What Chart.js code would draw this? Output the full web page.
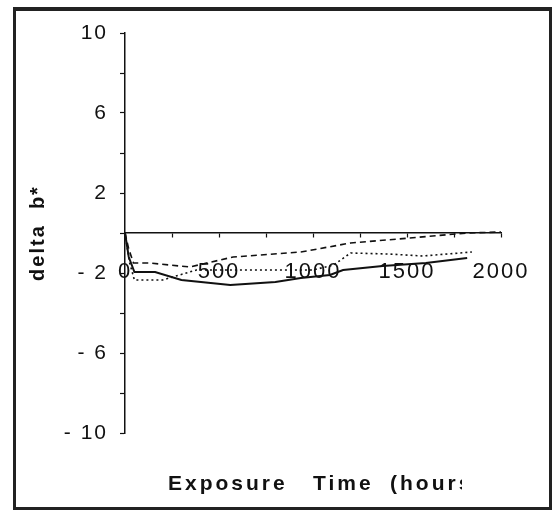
<!DOCTYPE html>
<html>
<head>
<meta charset="utf-8">
<script src="https://cdn.jsdelivr.net/npm/chart.js@4"></script>
<style>
  body { margin: 0; background: #fff; }
  #wrap { position: relative; width: 557px; height: 512px; }
  #frame {
    position: absolute; left: 13px; top: 7px; width: 539px; height: 503px;
    box-sizing: border-box; border: 3px solid #222; border-top-width: 4px;
    pointer-events: none;
  }
  canvas { position: absolute; left: 0; top: 0; }
</style>
</head>
<body>
<div id="wrap">
  <canvas id="chart" width="557" height="512"></canvas>
  <div id="frame"></div>
</div>
<script>
// values
let solidHours = [0, 20, 50, 160, 300, 560, 800, 935, 1090, 1160, 1370, 1600, 1820];
let solidValues = [0, -1.2, -1.95, -1.95, -2.35, -2.6, -2.45, -2.25, -2.1, -1.85, -1.65, -1.5, -1.25];

let dashedHours = [0, 20, 45, 130, 345, 575, 935, 1200, 1515, 1820, 2000];
let dashedValues = [0, -0.8, -1.5, -1.5, -1.7, -1.2, -0.95, -0.5, -0.25, 0, 0.05];

let dottedHours = [0, 25, 50, 200, 380, 1000, 1110, 1200, 1400, 1585, 1845];
let dottedValues = [0, -1.5, -2.35, -2.35, -1.85, -1.85, -1.6, -1.0, -1.05, -1.15, -0.95];

let yLabels = [10, 6, 2, -2, -6, -10];
let xLabels = [0, 500, 1000, 1500, 2000];
let xTitleWords = ["Exposure", "Time", "(hours"];
let yTitle = "delta  b*";

function toPoints(xs, ys) {
  return xs.map((x, i) => ({ x: x, y: ys[i] }));
}

const ink = "#111";
const font = "'Liberation Sans', Arial, Helvetica, sans-serif";

let spacing = {
  id: "spacing",
  beforeDraw(chart) {
    chart.ctx.letterSpacing = "2px";
  },
  afterDraw(chart) {
    // x title is cut at the right in the original, keep that
    let ctx = chart.ctx;
    ctx.save();
    ctx.beginPath();
    ctx.rect(0, 0, 462, 512);
    ctx.clip();
    ctx.fillStyle = ink;
    ctx.font = "bold 21px " + font;
    ctx.letterSpacing = "3px";
    ctx.textBaseline = "alphabetic";
    let xs = [168, 313, 390];
    xTitleWords.forEach((w, i) => ctx.fillText(w, xs[i], 490));
    ctx.restore();
  },
};

new Chart(document.getElementById("chart"), {
  type: "line",
  data: {
    datasets: [
      {
        data: toPoints(solidHours, solidValues),
        borderColor: ink,
        borderWidth: 2,
      },
      {
        data: toPoints(dashedHours, dashedValues),
        borderColor: ink,
        borderWidth: 1.6,
        borderDash: [6, 4],
      },
      {
        data: toPoints(dottedHours, dottedValues),
        borderColor: ink,
        borderWidth: 1.6,
        borderDash: [2, 3],
      },
    ],
  },
  options: {
    responsive: false,
    animation: false,
    events: [],
    elements: { point: { radius: 0 }, line: { tension: 0 } },
    layout: { padding: { top: 33, bottom: 79, right: 56, left: 0 } },
    plugins: { legend: { display: false }, tooltip: { enabled: false } },
    scales: {
      x: {
        type: "linear",
        position: { y: 0 },
        min: 0,
        max: 2000,
        border: { color: ink, width: 1.5 },
        grid: { drawOnChartArea: false, tickLength: 4, color: ink, tickWidth: 1.2 },
        ticks: {
          stepSize: 250,
          padding: 22,
          color: ink,
          font: { family: font, size: 22 },
          maxRotation: 0,
          autoSkip: false,
          callback: (v) => (xLabels.includes(v) ? String(v) : ""),
        },
      },
      y: {
        min: -10,
        max: 10,
        afterFit: (scale) => { scale.width = 125; },
        border: { color: ink, width: 1.5 },
        grid: { drawOnChartArea: false, tickLength: 5, color: ink, tickWidth: 1.2 },
        ticks: {
          stepSize: 2,
          padding: 12,
          color: ink,
          font: { family: font, size: 21 },
          callback: (v) =>
            yLabels.includes(v) ? (v < 0 ? "- " + Math.abs(v) : String(v)) : "",
        },
        title: {
          display: true,
          text: yTitle,
          color: ink,
          font: { family: font, size: 20, weight: "bold" },
          padding: { top: 26 },
        },
      },
    },
  },
  plugins: [spacing],
});
</script>
</body>
</html>
